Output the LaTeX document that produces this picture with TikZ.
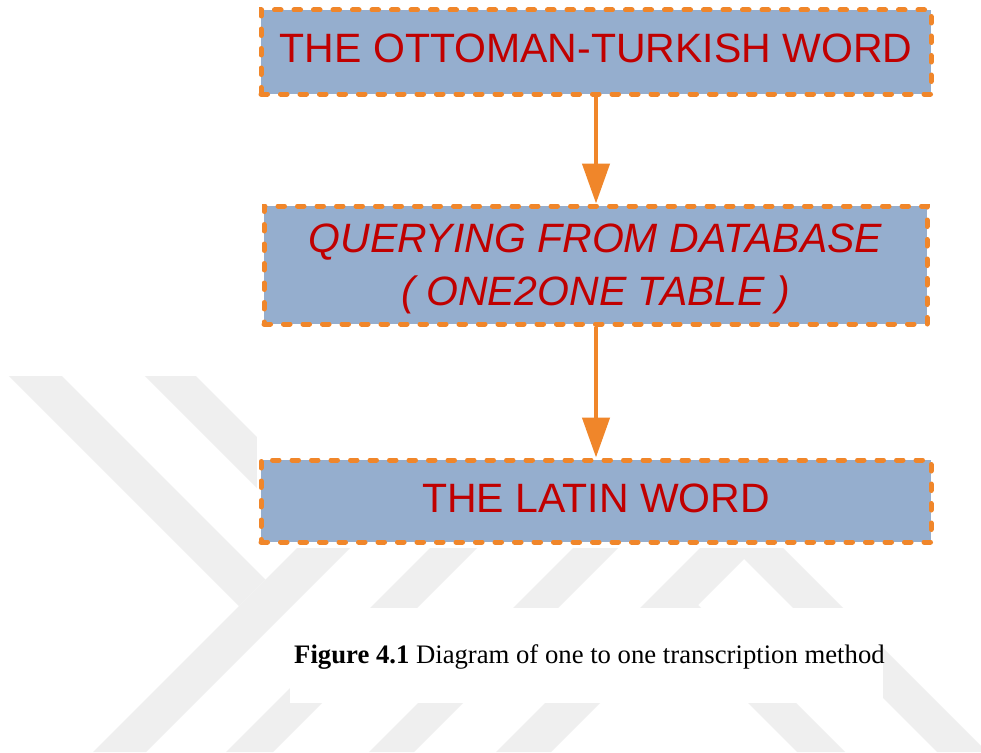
\documentclass[tikz,border=0pt]{standalone}
\usepackage{fontspec}
\setmainfont{Liberation Sans}
\newfontfamily\capfont{Liberation Serif}
\usetikzlibrary{arrows.meta}
\definecolor{boxfill}{RGB}{149,174,206}
\definecolor{boxline}{RGB}{240,134,42}
\definecolor{boxtext}{RGB}{192,0,0}
\definecolor{wmgray}{RGB}{239,239,239}
\begin{document}
\begin{tikzpicture}[x=1pt,y=-1pt,
  stepbox/.style={draw=boxline, fill=boxfill, line width=5pt, dash pattern=on 6.5pt off 13pt,
    line cap=round, text=boxtext, inner sep=0pt, outer sep=2.5pt,
    font=\fontsize{41}{53}\selectfont, align=center},
  flow/.style={draw=boxline, line width=4.5pt, -{Triangle[length=40pt,width=27pt]}},
  wm/.style={fill=wmgray, draw=none},
  blank/.style={fill=white, draw=none}]
\useasboundingbox (0,0) rectangle (981,752);
\fill[white] (0,0) rectangle (981,752);
% faint watermark
\begin{scope}
  \clip (0,376) rectangle (981,752);
  \fill[wm] (7,374) -- (60,374) -- (265.5,579.5) -- (239,606) -- cycle;
  \fill[wm] (93,752) -- (445,400) -- (498,400) -- (146,752) -- cycle;
  \fill[wm] (143,374) -- (194,374) -- (360,540) -- (309,540) -- cycle;
  \fill[wm] (226,752) -- (526,452) -- (573,452) -- (273,752) -- cycle;
  \fill[wm] (369,752) -- (669,452) -- (714,452) -- (414,752) -- cycle;
  \fill[wm] (496,752) -- (741.5,506.5) -- (987,752) -- (937,752) -- (744,559) -- (551,752) -- cycle;
  \fill[wm] (660,615) -- (684,591) -- (845,752) -- (797,752) -- cycle;
\end{scope}
\fill[blank] (257,370) rectangle (981,548);
\fill[blank] (290,608) rectangle (883,703);
% diagram
\node[stepbox, minimum width=670pt, minimum height=84pt, text depth=8pt] (b1) at (596,52)
  {THE OTTOMAN-TURKISH WORD};
\node[stepbox, minimum width=663pt, minimum height=118pt, font=\itshape\fontsize{41}{53}\selectfont] (b2) at (595.5,265)
  {QUERYING FROM DATABASE\\\smash{(} ONE2ONE TABLE \smash{)}};
\node[stepbox, minimum width=670pt, minimum height=82pt, text depth=6pt] (b3) at (596,501)
  {THE LATIN WORD};
\draw[flow] (b1.south) -- (b1.south |- b2.north);
\draw[flow] (b2.south -| b1.south) -- (b1.south |- b3.north);
\node[anchor=base west, inner sep=0pt, font=\capfont\fontsize{26.7}{32}\selectfont] (cap) at (294,663)
  {\textbf{Figure 4.1} Diagram of one to one transcription method};
\end{tikzpicture}
\end{document}
